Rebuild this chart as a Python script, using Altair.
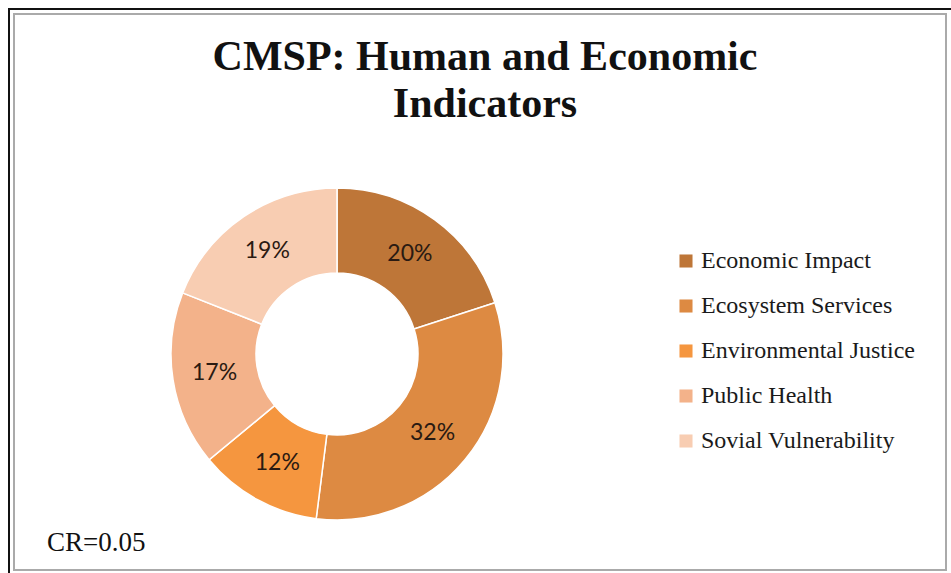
import altair as alt
import pandas as pd

categories = ["Economic Impact", "Ecosystem Services", "Environmental Justice", "Public Health", "Sovial Vulnerability"]
shares = [20, 32, 12, 17, 19]
labels = ["20%", "32%", "12%", "17%", "19%"]
colors = ["#BE7638", "#DD8A42", "#F5963F", "#F3B28A", "#F8CDB2"]
title_lines = ["CMSP: Human and Economic", "Indicators"]
note = "CR=0.05"

df = pd.DataFrame({"category": categories, "share": shares, "label": labels, "order": list(range(len(categories)))})
one = pd.DataFrame({"a": [0]})

W, H = 951, 573
CX, CY = 337, 354

color = alt.Color("category:N",
                  scale=alt.Scale(domain=categories, range=colors),
                  sort=categories,
                  legend=alt.Legend(title=None, orient="none", legendX=674, legendY=249,
                                    labelFont="Liberation Serif", labelFontSize=24, labelColor="#1a1a1a",
                                    symbolType="square", symbolSize=170, symbolStrokeWidth=0,
                                    rowPadding=21, labelOffset=3, padding=0, labelLimit=400))

base = alt.Chart(df).encode(
    theta=alt.Theta("share:Q", stack=True),
    order=alt.Order("order:Q"),
)

arcs = base.mark_arc(outerRadius=166, innerRadius=81, stroke="white", strokeWidth=1.5).encode(
    color=color, x=alt.value(CX), y=alt.value(CY))

texts = base.mark_text(radius=124, font="Lato", fontSize=23, color="#2a1a12").encode(
    text="label:N", x=alt.value(CX), y=alt.value(CY))

outer = alt.Chart(one).mark_rect(fill=None, stroke="#111111", strokeWidth=2).encode(
    x=alt.value(9), x2=alt.value(952), y=alt.value(9), y2=alt.value(575))
inner = alt.Chart(one).mark_rect(fill=None, stroke="#aaaaaa", strokeWidth=2).encode(
    x=alt.value(14), x2=alt.value(946), y=alt.value(14), y2=alt.value(570))

t1 = alt.Chart(one).mark_text(font="Liberation Serif", fontWeight="bold", fontSize=42, color="#111111",
                              align="center", baseline="alphabetic").encode(
    x=alt.value(485), y=alt.value(70), text=alt.value(title_lines[0]))
t2 = alt.Chart(one).mark_text(font="Liberation Serif", fontWeight="bold", fontSize=42, color="#111111",
                              align="center", baseline="alphabetic").encode(
    x=alt.value(485), y=alt.value(117), text=alt.value(title_lines[1]))
t3 = alt.Chart(one).mark_text(font="Liberation Serif", fontSize=27, color="#111111",
                              align="left", baseline="alphabetic").encode(
    x=alt.value(47), y=alt.value(551), text=alt.value(note))

chart = alt.layer(outer, inner, arcs, texts, t1, t2, t3).properties(
    width=W, height=H, padding=0, autosize=alt.AutoSizeParams(type="none"),
    background="white"
).configure_view(stroke=None)

chart.save("out.html", embed_options={"renderer": "svg", "actions": False})
